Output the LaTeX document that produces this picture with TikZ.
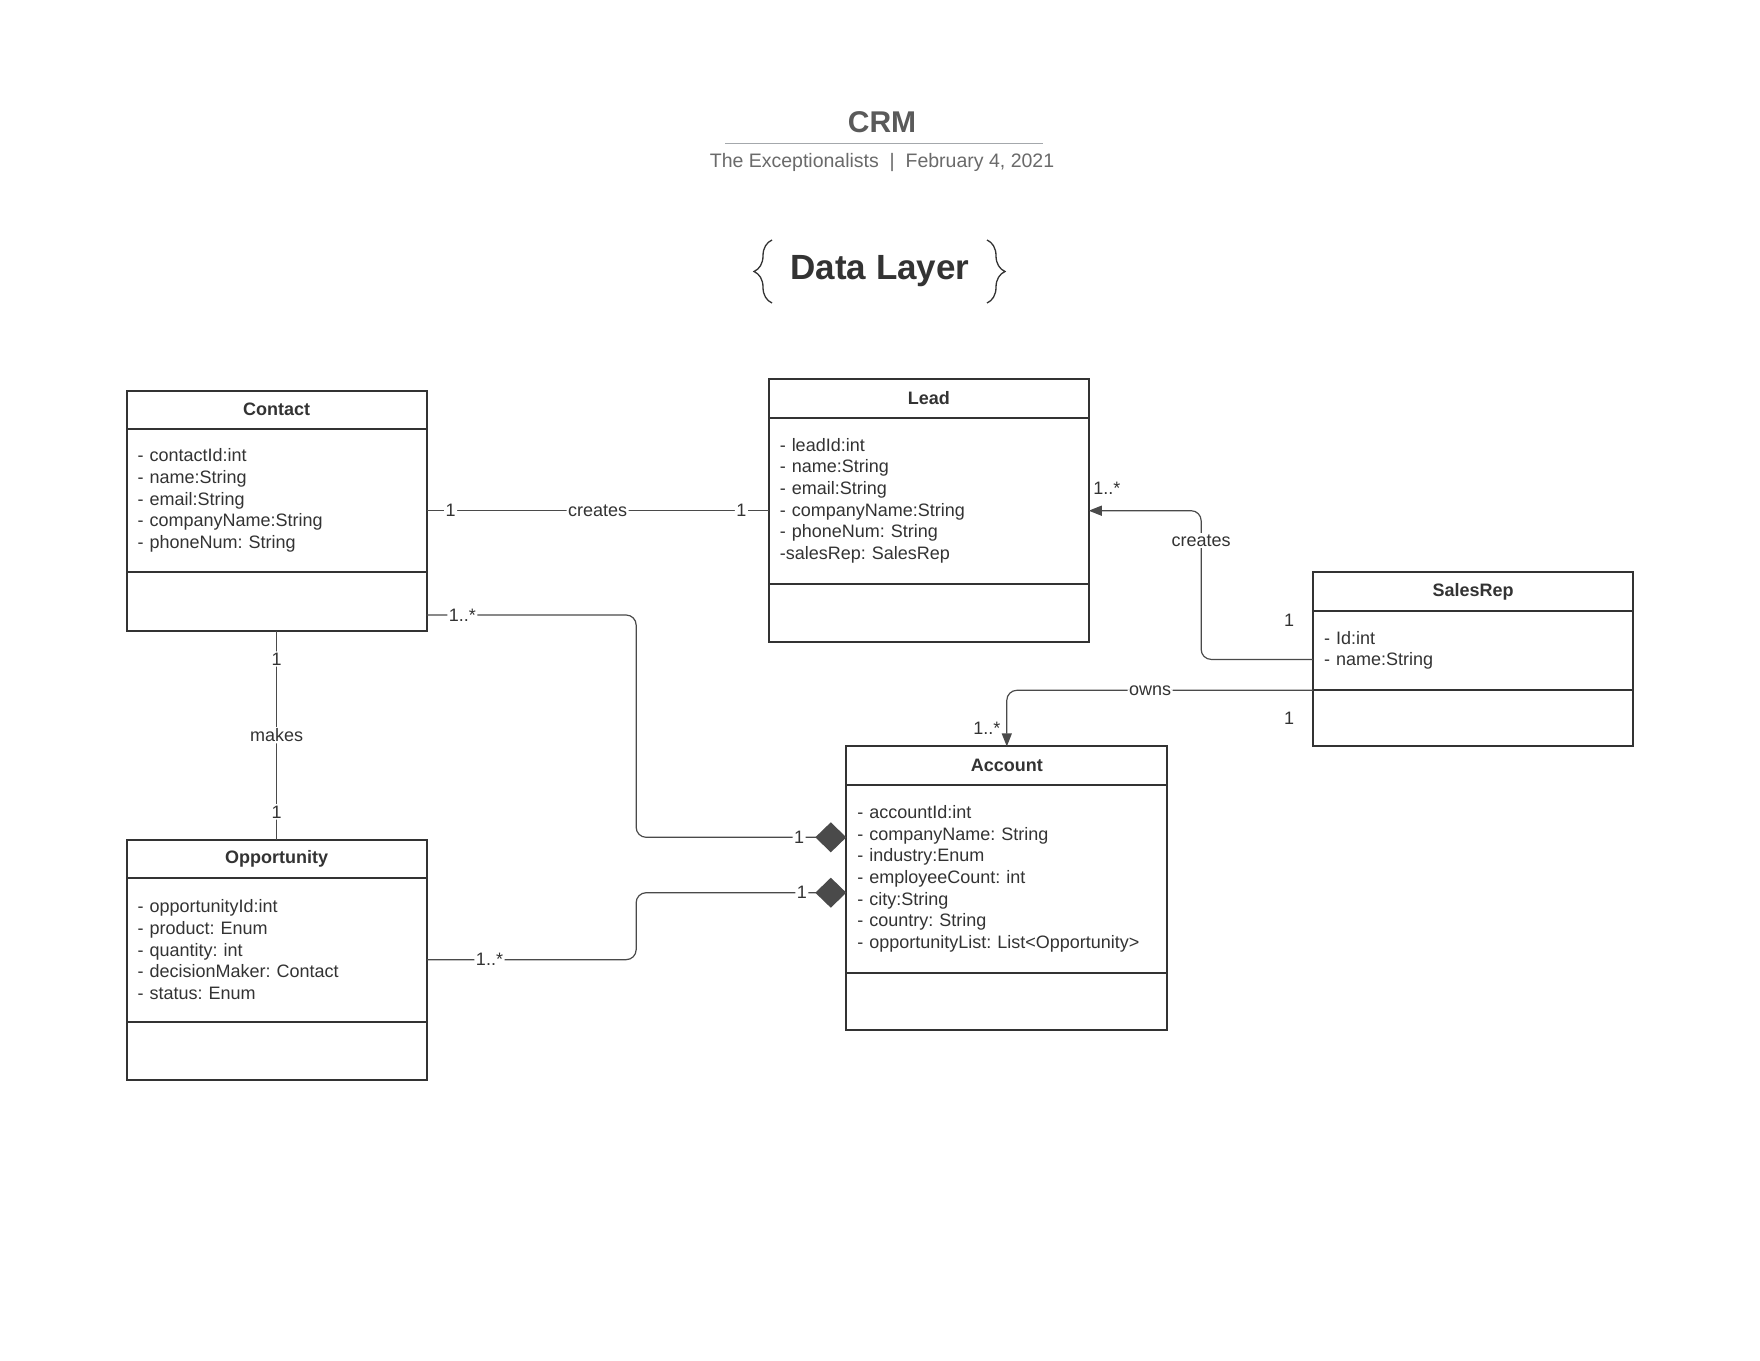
\documentclass[tikz,border=0pt]{standalone}
\usepackage{fontspec}
\setmainfont{Liberation Sans}
\usetikzlibrary{positioning,arrows.meta,decorations.pathreplacing}
\frenchspacing

\definecolor{boxline}{HTML}{333333}
\definecolor{connline}{HTML}{4A4A4A}
\definecolor{titlegray}{HTML}{5A5A5A}
\definecolor{subgray}{HTML}{6A6A6A}
\definecolor{rulegray}{HTML}{A4A8AC}

\tikzset{
	classbox/.style={draw=boxline, line width=2pt, outer sep=0pt, inner sep=0pt},
	classhead/.style={font=\fontsize{18}{21.7}\selectfont\bfseries, text=boxline, minimum height=38.2pt, inner sep=0pt, outer sep=0pt},
	classattr/.style={font=\fontsize{18}{21.7}\selectfont, text=boxline, align=left, inner xsep=11pt, inner ysep=0pt, outer sep=0pt},
	sepline/.style={draw=boxline, line width=2pt},
	assoc/.style={draw=connline, line width=1.2pt, rounded corners=10pt},
	lbl/.style={font=\fontsize{18}{21.7}\selectfont, text=boxline, fill=white, inner sep=1.5pt},
	mult/.style={font=\fontsize{18}{21.7}\selectfont, text=boxline, inner sep=0pt},
	curly/.style={draw=boxline, line width=1.3pt, decorate, decoration={brace, amplitude=18pt}},
}

\begin{document}
\begin{tikzpicture}[x=1pt, y=-1pt]
	\useasboundingbox (0,0) rectangle (1760,1360);
	\fill[white] (0,0) rectangle (1760,1360);

	\node[font=\fontsize{30}{36}\selectfont\bfseries, text=titlegray, anchor=base] (title) at (882,132) {CRM};
	\draw[draw=rulegray, line width=1.5pt] (725,143.5) -- (1043,143.5);
	\node[font=\fontsize{19.5}{24}\selectfont, text=subgray, anchor=base] (subtitle) at (882,167) {The Exceptionalists~ |~ February 4, 2021};
	\node[font=\fontsize{35}{42}\selectfont\bfseries, text=boxline, anchor=base] (layer) at (880,279) {Data Layer};
	\draw[curly] (772,303) -- (772,240);
	\draw[curly] (987,240) -- (987,303);

	% Contact
	\node[classbox, minimum width=300pt, minimum height=240.2pt] (contact) at (276.65,510.7) {};
	\node[classhead, minimum width=300pt, below=0pt of contact.north] (contacthead) {Contact};
	\node[classattr, text width=278pt, minimum height=143.6pt, below=0pt of contacthead] (contactattr) {- contactId:int\\- name:String\\- email:String\\- companyName:String\\- phoneNum: String};
	\draw[sepline] (contacthead.south west) -- (contacthead.south east);
	\draw[sepline] (contactattr.south west) -- (contactattr.south east);

	% Lead
	\node[classbox, minimum width=320pt, minimum height=262.6pt] (lead) at (928.75,510.7) {};
	\node[classhead, minimum width=320pt, below=0pt of lead.north] (leadhead) {Lead};
	\node[classattr, text width=298pt, minimum height=166.1pt, below=0pt of leadhead] (leadattr) {- leadId:int\\- name:String\\- email:String\\- companyName:String\\- phoneNum: String\\-salesRep: SalesRep};
	\draw[sepline] (leadhead.south west) -- (leadhead.south east);
	\draw[sepline] (leadattr.south west) -- (leadattr.south east);

	% SalesRep
	\node[classbox, minimum width=320pt, minimum height=174pt] (salesrep) at (1473.15,659.4) {};
	\node[classhead, minimum width=320pt, below=0pt of salesrep.north] (salesrephead) {SalesRep};
	\node[classattr, text width=298pt, minimum height=79.7pt, below=0pt of salesrephead] (salesrepattr) {- Id:int\\- name:String};
	\draw[sepline] (salesrephead.south west) -- (salesrephead.south east);
	\draw[sepline] (salesrepattr.south west) -- (salesrepattr.south east);

	% Account
	\node[classbox, minimum width=321pt, minimum height=284pt] (account) at (1006.8,888.4) {};
	\node[classhead, minimum width=321pt, below=0pt of account.north] (accounthead) {Account};
	\node[classattr, text width=299pt, minimum height=188.6pt, below=0pt of accounthead] (accountattr) {- accountId:int\\- companyName: String\\- industry:Enum\\- employeeCount: int\\- city:String\\- country: String\\- opportunityList: List<Opportunity>};
	\draw[sepline] (accounthead.south west) -- (accounthead.south east);
	\draw[sepline] (accountattr.south west) -- (accountattr.south east);

	% Opportunity
	\node[classbox, minimum width=300pt, minimum height=240.1pt] (opportunity) at (276.65,959.65) {};
	\node[classhead, minimum width=300pt, below=0pt of opportunity.north] (opportunityhead) {Opportunity};
	\node[classattr, text width=278pt, minimum height=143.7pt, below=0pt of opportunityhead] (opportunityattr) {- opportunityId:int\\- product: Enum\\- quantity: int\\- decisionMaker: Contact\\- status: Enum};
	\draw[sepline] (opportunityhead.south west) -- (opportunityhead.south east);
	\draw[sepline] (opportunityattr.south west) -- (opportunityattr.south east);

	% associations
	\draw[assoc] (contact.east) -- node[lbl, pos=0.07] {1} node[lbl] {creates} node[lbl, pos=0.92] {1} (lead.west);
	\draw[assoc] (contact.south) -- node[lbl, pos=0.135] {1} node[lbl] {makes} node[lbl, pos=0.867] {1} (opportunity.north);
	\draw[assoc, -{Diamond[length=31pt,width=30pt]}] ([yshift=-104.3pt]contact.east) -- node[lbl, pos=0.17] {1..*} ++(209.5,0) |- node[lbl, pos=0.888] {1} ([yshift=51.1pt]account.west);
	\draw[assoc, -{Diamond[length=31pt,width=30pt]}] (opportunity.east) -- node[lbl, pos=0.3] {1..*} ++(209.5,0) |- node[lbl, pos=0.894] {1} ([yshift=-4.3pt]account.west);
	\draw[assoc, -{Triangle[length=13pt,width=10pt]}] (salesrep.west) -- node[mult, pos=0, xshift=-24pt, yshift=39pt] {1} ++(-112,0) |- node[lbl, pos=0.4] {creates} node[mult, pos=1, xshift=18pt, yshift=22pt] {1..*} (lead.east);
	\draw[assoc, -{Triangle[length=13pt,width=10pt]}] (salesrepattr.south west) -| node[mult, pos=0, xshift=-24pt, yshift=-28pt] {1} node[lbl, pos=0.266] {owns} node[mult, pos=1, xshift=-20pt, yshift=18pt] {1..*} (account.north);
\end{tikzpicture}
\end{document}
